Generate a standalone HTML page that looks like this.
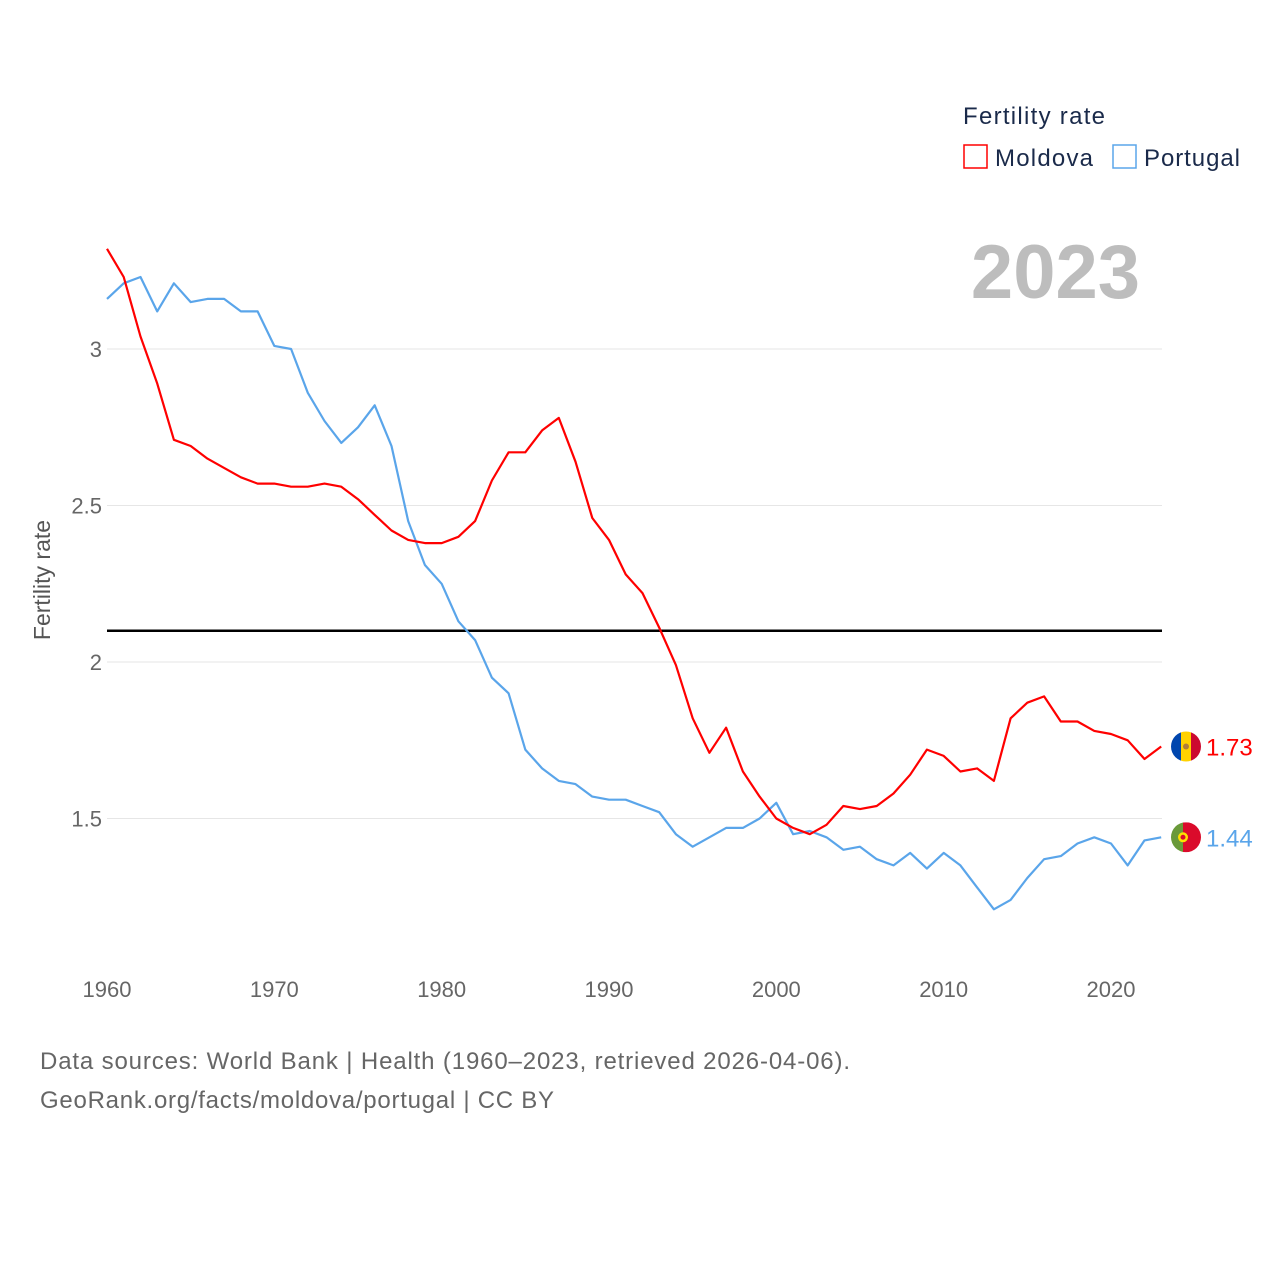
<!DOCTYPE html>
<html><head><meta charset="utf-8"><style>
html,body{margin:0;padding:0;background:#fff;}
svg{display:block;font-family:"Liberation Sans",sans-serif;}
</style></head><body>
<svg id="chart" width="1280" height="1280" viewBox="0 0 1280 1280">
<g id="grid"></g>
<g id="yticks"></g>
<g id="xticks"></g>
<text x="50" y="580" transform="rotate(-90 50 580)" text-anchor="middle" font-size="23" fill="#555">Fertility rate</text>
<text x="1140" y="298" text-anchor="end" font-size="76" font-weight="bold" fill="#bdbdbd">2023</text>
<g>
<text x="963" y="124" font-size="24" fill="#1a2a4a" textLength="142">Fertility rate</text>
<g><rect x="964" y="145" width="23" height="23" fill="none" stroke="#ff0000" stroke-width="1.5"/><text x="995" y="166" font-size="24" fill="#1a2a4a" textLength="98">Moldova</text></g>
<g><rect x="1113" y="145" width="23" height="23" fill="none" stroke="#5aa5ea" stroke-width="1.5"/><text x="1144" y="166" font-size="24" fill="#1a2a4a" textLength="96">Portugal</text></g>
</g>
<g id="series"></g>
<g id="ends"></g>
<text x="40" y="1069" font-size="24" fill="#666" textLength="810">Data sources: World Bank | Health (1960–2023, retrieved 2026-04-06).</text>
<text x="40" y="1108" font-size="24" fill="#666" textLength="514">GeoRank.org/facts/moldova/portugal | CC BY</text>
</svg>
<script>
const years = Array.from({length:64},(_,i)=>1960+i);
const moldova = [3.32,3.23,3.04,2.89,2.71,2.69,2.65,2.62,2.59,2.57,2.57,2.56,2.56,2.57,2.56,2.52,2.47,2.42,2.39,2.38,2.38,2.40,2.45,2.58,2.67,2.67,2.74,2.78,2.64,2.46,2.39,2.28,2.22,2.11,1.99,1.82,1.71,1.79,1.65,1.57,1.50,1.47,1.45,1.48,1.54,1.53,1.54,1.58,1.64,1.72,1.70,1.65,1.66,1.62,1.82,1.87,1.89,1.81,1.81,1.78,1.77,1.75,1.69,1.73];
const portugal = [3.16,3.21,3.23,3.12,3.21,3.15,3.16,3.16,3.12,3.12,3.01,3.00,2.86,2.77,2.70,2.75,2.82,2.69,2.45,2.31,2.25,2.13,2.07,1.95,1.90,1.72,1.66,1.62,1.61,1.57,1.56,1.56,1.54,1.52,1.45,1.41,1.44,1.47,1.47,1.50,1.55,1.45,1.46,1.44,1.40,1.41,1.37,1.35,1.39,1.34,1.39,1.35,1.28,1.21,1.24,1.31,1.37,1.38,1.42,1.44,1.42,1.35,1.43,1.44];
const yTicks = [1.5,2,2.5,3];
const xTicks = [1960,1970,1980,1990,2000,2010,2020];
const replacement = 2.1;
const NS="http://www.w3.org/2000/svg";
const X = y => 107 + (y-1960)*(1111-107)/60;
const Y = v => 349 + (3-v)*313;
function mk(t,a,p){const e=document.createElementNS(NS,t);for(const k in a)e.setAttribute(k,a[k]);p.appendChild(e);return e;}
const grid=document.getElementById('grid'), yt=document.getElementById('yticks'), xt=document.getElementById('xticks');
yTicks.forEach(v=>{
  const l=mk('line',{x1:107,x2:1162,y1:Y(v),y2:Y(v),stroke:'#e6e6e6','stroke-width':1},grid);
  
  
  const t=mk('text',{x:102,y:Y(v)+8,'text-anchor':'end','font-size':22,fill:'#666'},yt);
  t.textContent=String(v);
  
  
});
xTicks.forEach(v=>{
  const t=mk('text',{x:X(v),y:997,'text-anchor':'middle','font-size':22,fill:'#666'},xt);
  t.textContent=String(v);
  
  
});
const ser=document.getElementById('series');
const rl=mk('line',{x1:107,x2:1162,y1:Y(replacement),y2:Y(replacement),stroke:'#000','stroke-width':2.5},ser);


function line(vals,col,name){
  const d=vals.map((v,i)=>(i?'L':'M')+X(years[i]).toFixed(1)+' '+Y(v).toFixed(1)).join(' ');
  const p=mk('path',{d:d,fill:'none',stroke:col,'stroke-width':2.2,'stroke-linejoin':'round'},ser);
  
  
}
line(portugal,'#5aa5ea','portugal-line');
line(moldova,'#ff0000','moldova-line');
const ends=document.getElementById('ends');
function endLbl(vals,col,name,flag){
  const v=vals[vals.length-1], cx=1186, cy=Y(v);
  const g=mk('g',{},ends);
  
  
  const cp=mk('clipPath',{id:name+'-clip'},g); mk('circle',{cx:cx,cy:cy,r:15},cp);
  const fg=mk('g',{'clip-path':'url(#'+name+'-clip)'},g);
  flag(fg,cx,cy);
  const t=mk('text',{x:1206,y:cy+9,'font-size':24,fill:col},g);
  t.textContent=v.toFixed(2);
}
endLbl(moldova,'#ff0000','moldova-end-label',(g,cx,cy)=>{
  mk('rect',{x:cx-15,y:cy-15,width:10,height:30,fill:'#0046ae'},g);
  mk('rect',{x:cx-5,y:cy-15,width:10,height:30,fill:'#ffd200'},g);
  mk('rect',{x:cx+5,y:cy-15,width:10,height:30,fill:'#cc092f'},g);
  mk('circle',{cx:cx,cy:cy,r:3,fill:'#b07e3a'},g);
});
endLbl(portugal,'#5aa5ea','portugal-end-label',(g,cx,cy)=>{
  mk('rect',{x:cx-15,y:cy-15,width:12,height:30,fill:'#6a9a3a'},g);
  mk('rect',{x:cx-3,y:cy-15,width:18,height:30,fill:'#da0b2b'},g);
  mk('circle',{cx:cx-3,cy:cy,r:5,fill:'#ffe000'},g);
  mk('circle',{cx:cx-3,cy:cy,r:2.5,fill:'#da0b2b'},g);
});
</script>
</body></html>
